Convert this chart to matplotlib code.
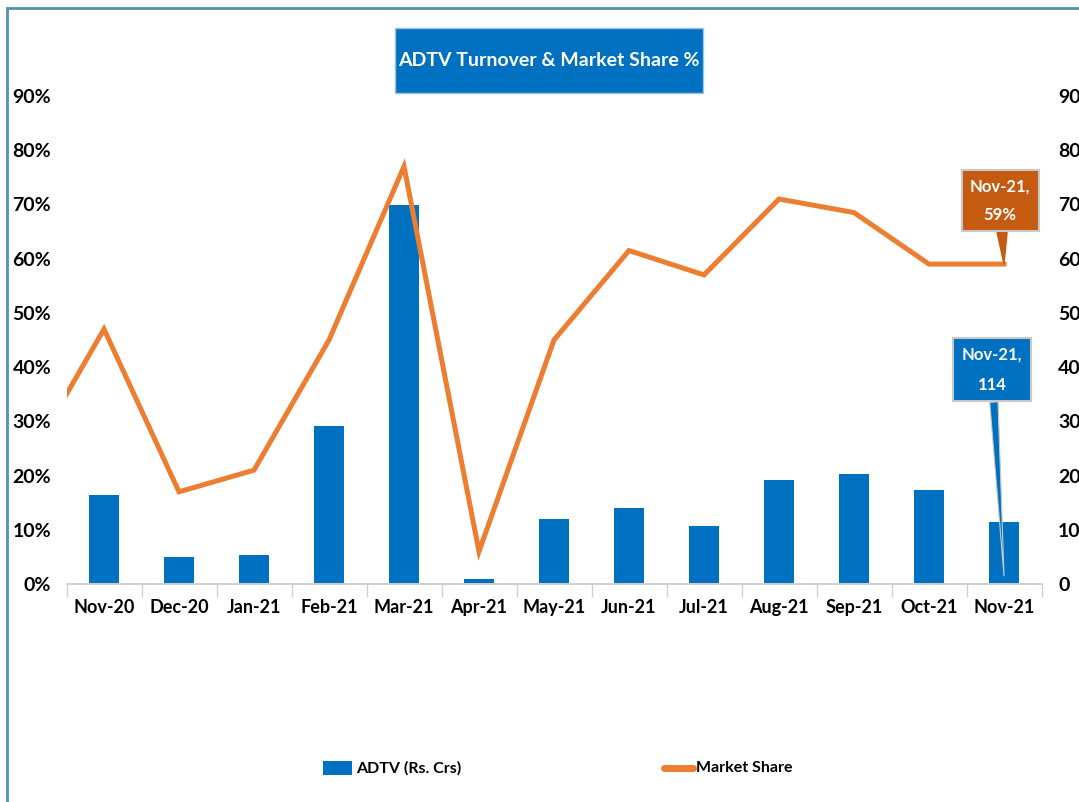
import matplotlib
matplotlib.use("Agg")
import matplotlib.pyplot as plt
import numpy as np
from matplotlib.patches import Rectangle

plt.rcParams['font.family'] = ['Lato', 'DejaVu Sans']

months = ["Nov-20", "Dec-20", "Jan-21", "Feb-21", "Mar-21", "Apr-21", "May-21",
          "Jun-21", "Jul-21", "Aug-21", "Sep-21", "Oct-21", "Nov-21"]
adtv = [164, 49, 54, 292, 699, 9, 119, 141, 107, 191, 202, 174, 114]
# market share incl. the preceding month (Oct-20) which is clipped at the left edge
share_prev = 23
market_share = [47, 17, 21, 45, 77, 6, 45, 61.5, 57, 71, 68.5, 59, 59]
left_ticks = [0, 10, 20, 30, 40, 50, 60, 70, 80, 90]
right_ticks = [0, 100, 200, 300, 400, 500, 600, 700, 800, 900]

BLUE = "#0070C0"
ORANGE = "#ED7D31"
DARK_ORANGE = "#C55A11"

W, H = 1079, 802
fig = plt.figure(figsize=(W / 100, H / 100), dpi=100)
ax = fig.add_axes([66.5 / W, 1 - 584 / H, 975 / W, 488 / H])
ax2 = ax.twinx()

x = np.arange(len(months))
ax2.bar(x, adtv, width=0.39, color=BLUE, zorder=2)
ax2.set_ylim(0, 900)
ax2.set_yticks(right_ticks)
ax2.set_yticklabels([str(v) for v in right_ticks], fontsize=14, fontweight='bold')
ax2.tick_params(axis='y', length=0, pad=12)

xl = np.arange(-1, len(months))
ax.plot(xl, [share_prev] + market_share, color=ORANGE, lw=3.6, zorder=3,
        solid_joinstyle='miter', clip_on=True)
ax.set_zorder(ax2.get_zorder() + 1)
ax.patch.set_visible(False)
ax.set_xlim(-0.5, len(months) - 0.5)
ax.set_ylim(0, 90)
ax.set_yticks(left_ticks)
ax.set_yticklabels([f"{v}%" for v in left_ticks], fontsize=14, fontweight='bold')
ax.tick_params(axis='y', length=0, pad=11)
ax.set_xticks(x)
ax.set_xticklabels(months, fontsize=13, fontweight='bold')
ax.tick_params(axis='x', length=0, pad=11)
ax.set_xticks(np.arange(-0.5, len(months)), minor=True)
ax.tick_params(axis='x', which='minor', length=9.5, color='#d0d0d0', width=1)

for a in (ax, ax2):
    for s in ['top', 'right', 'left']:
        a.spines[s].set_visible(False)
    a.spines['bottom'].set_color('#d0d0d0')
    a.spines['bottom'].set_linewidth(1.2)

# callouts
last = len(months) - 1
ax.annotate(f"{months[last]},\n{market_share[last]:.0f}%", xy=(last, market_share[last]),
            xytext=(last - 0.05, market_share[last] + 11.7), ha='center', va='center',
            color='white', fontsize=12, fontweight='bold', zorder=6, linespacing=2.0,
            bbox=dict(boxstyle='square,pad=0.5', fc=DARK_ORANGE, ec='#c8c8c8', lw=1.5),
            arrowprops=dict(arrowstyle='wedge,tail_width=0.6,shrink_factor=0.5',
                            fc=DARK_ORANGE, ec=DARK_ORANGE, shrinkA=0, shrinkB=0))
ax2.annotate(f"{months[last]},\n{adtv[last]}", xy=(last, 15),
             xytext=(last - 0.16, 395), ha='center', va='center',
             color='white', fontsize=12, fontweight='bold', zorder=6, linespacing=2.1,
             bbox=dict(boxstyle='square,pad=0.5', fc=BLUE, ec='#c8c8c8', lw=1.5),
             arrowprops=dict(arrowstyle='wedge,tail_width=0.5,shrink_factor=0.5',
                             fc=BLUE, ec='#c8c8c8', lw=0.8, shrinkA=0, shrinkB=0))

# title
fig.patches.append(Rectangle((395 / W, 1 - 93 / H), 308 / W, 65 / H, transform=fig.transFigure,
                             fc=BLUE, ec='#9dc3e6', lw=1))
fig.text(549 / W, 1 - 61 / H, "ADTV Turnover & Market Share %", ha='center', va='center',
         color='white', fontsize=14, fontweight='bold', zorder=5)

# legend
fig.patches.append(Rectangle((323 / W, 1 - 775 / H), 29 / W, 14 / H, transform=fig.transFigure,
                             fc=BLUE, ec='none'))
fig.text(356 / W, 1 - 768 / H, "ADTV (Rs. Crs)", va='center', fontsize=11.5, fontweight='bold')
fig.add_artist(plt.Line2D([664 / W, 693 / W], [1 - 768 / H, 1 - 768 / H], transform=fig.transFigure,
                          color=ORANGE, lw=5, solid_capstyle='round'))
fig.text(696 / W, 1 - 768 / H, "Market Share", va='center', fontsize=11.5, fontweight='bold')

# outer frame
fig.patches.append(Rectangle((7 / W, -0.1), 1.2, 1 - 8 / H + 0.1, transform=fig.transFigure,
                             fill=False, ec='#4f94ad', lw=2))

fig.savefig("out.png", dpi=100)
